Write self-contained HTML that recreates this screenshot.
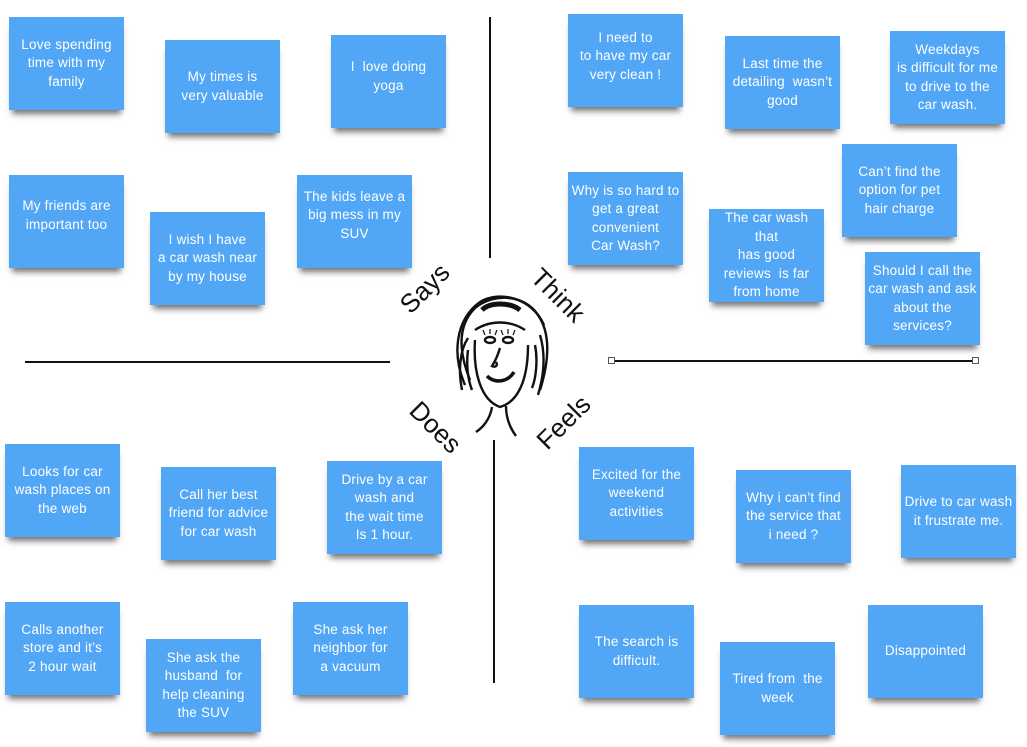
<!DOCTYPE html>
<html><head><meta charset="utf-8"><style>
body{margin:0;width:1027px;height:747px;background:#fff;position:relative;overflow:hidden;font-family:"Liberation Sans",sans-serif}
.n{position:absolute;width:115px;height:93px;background:#52a6f6;color:#fff;font-size:13.5px;line-height:18.5px;text-align:center;display:flex;align-items:center;justify-content:center;box-shadow:0 7px 6px -3px rgba(0,0,0,.55);box-sizing:border-box;white-space:nowrap;letter-spacing:0.2px}
.l{position:absolute;background:#111}
.lab{position:absolute;font-size:26px;color:#111;transform-origin:center}
</style></head><body>
<div class="n" style="left:9px;top:17px">Love spending<br>time with my<br>family</div>
<div class="n" style="left:165px;top:40px">My times is<br>very valuable</div>
<div class="n" style="left:331px;top:35px;padding-bottom:10px">I&nbsp; love doing<br>yoga</div>
<div class="n" style="left:9px;top:175px;padding-bottom:12px">My friends are<br>important too</div>
<div class="n" style="left:150px;top:212px">I wish I have<br>a car wash near<br>by my house</div>
<div class="n" style="left:297px;top:175px;padding-bottom:12px">The kids leave a<br>big mess in my<br>SUV</div>
<div class="n" style="left:568px;top:14px;padding-bottom:8px">I need to<br>to have my car<br>very clean !</div>
<div class="n" style="left:725px;top:36px">Last time the<br>detailing&nbsp; wasn’t<br>good</div>
<div class="n" style="left:890px;top:31px">Weekdays<br>is difficult for me<br>to drive to the<br>car wash.</div>
<div class="n" style="left:568px;top:172px">Why is so hard to<br>get a great<br>convenient<br>Car Wash?</div>
<div class="n" style="left:709px;top:209px">The car wash<br>that<br>has good<br>reviews&nbsp; is far<br>from home</div>
<div class="n" style="left:842px;top:144px">Can’t find the<br>option for pet<br>hair charge</div>
<div class="n" style="left:865px;top:252px">Should I call the<br>car wash and ask<br>about the<br>services?</div>
<div class="n" style="left:5px;top:444px">Looks for car<br>wash places on<br>the web</div>
<div class="n" style="left:161px;top:467px">Call her best<br>friend for advice<br>for car wash</div>
<div class="n" style="left:327px;top:461px">Drive by a car<br>wash and<br>the wait time<br>Is 1 hour.</div>
<div class="n" style="left:5px;top:602px">Calls another<br>store and it’s<br>2 hour wait</div>
<div class="n" style="left:146px;top:639px">She ask the<br>husband&nbsp; for<br>help cleaning<br>the SUV</div>
<div class="n" style="left:293px;top:602px">She ask her<br>neighbor for<br>a vacuum</div>
<div class="n" style="left:579px;top:447px">Excited for the<br>weekend<br>activities</div>
<div class="n" style="left:736px;top:470px">Why i can’t find<br>the service that<br>i need ?</div>
<div class="n" style="left:901px;top:465px">Drive to car wash<br>it frustrate me.</div>
<div class="n" style="left:579px;top:605px">The search is<br>difficult.</div>
<div class="n" style="left:720px;top:642px">Tired from&nbsp; the<br>week</div>
<div class="n" style="left:868px;top:605px">Disappointed</div>
<div class="l" style="left:489px;top:17px;width:2px;height:241px"></div>
<div class="l" style="left:25px;top:361px;width:365px;height:2px"></div>
<div class="l" style="left:612px;top:360px;width:364px;height:2px"></div>
<div style="position:absolute;left:608px;top:357px;width:5px;height:5px;border:1px solid #555;background:#fff"></div>
<div style="position:absolute;left:972px;top:357px;width:5px;height:5px;border:1px solid #555;background:#fff"></div>
<div class="l" style="left:493px;top:440px;width:2px;height:243px"></div>
<div class="lab" style="left:396px;top:273px;transform:rotate(-45deg)">Says</div>
<div class="lab" style="left:526px;top:280px;transform:rotate(45deg)">Think</div>
<div class="lab" style="left:405px;top:412px;transform:rotate(45deg)">Does</div>
<div class="lab" style="left:532px;top:407px;transform:rotate(-45deg)">Feels</div>
<svg style="position:absolute;left:440px;top:290px" width="120" height="150" viewBox="0 0 120 150" fill="none" stroke="#111" stroke-width="2.4">
<path d="M30 90 C18 60 18 35 35 18 C55 2 85 5 98 25 C112 45 108 75 100 100"/>
<path d="M25 95 C12 65 15 30 40 12 C60 0 92 8 104 35"/>
<path d="M22 100 C18 80 20 60 28 48 M100 45 C106 65 104 85 98 105 M28 60 C26 75 28 90 32 100 M95 55 C98 70 96 88 92 98"/>
<path d="M35 40 C50 30 70 30 85 40"/>
<path d="M42 20 C50 12 70 12 80 20" stroke-width="5"/>
<path d="M35 50 C33 80 40 110 60 117 C78 112 88 90 88 55"/>
<ellipse cx="50" cy="50" rx="5" ry="3"/><ellipse cx="68" cy="50" rx="5" ry="3"/>
<path d="M45 45 l-2 -5 M50 44 v-5 M55 45 l2 -5 M63 45 l-2 -5 M68 44 v-5 M73 45 l2 -5" stroke-width="1.2"/>
<path d="M60 58 C57 68 54 73 52 76 C56 78 58 75 56 72"/>
<path d="M47 86 C55 94 68 92 74 82" stroke-width="3.5"/>
<path d="M52 117 C50 130 42 138 36 142 M66 116 C66 128 70 138 76 146"/>
</svg>
</body></html>
